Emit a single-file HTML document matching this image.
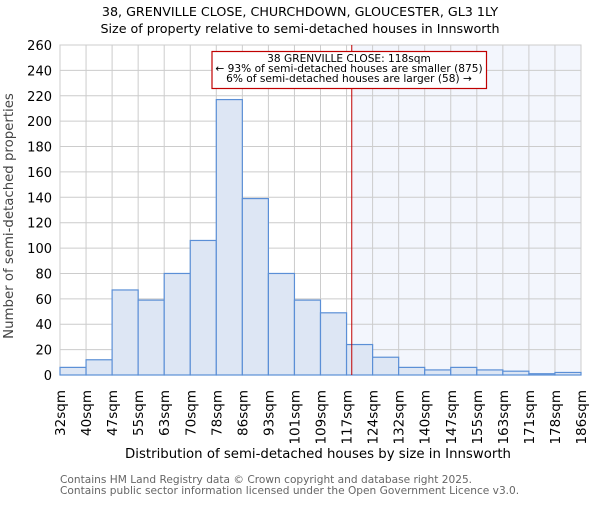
<!DOCTYPE html>
<html><head><meta charset="utf-8"><style>
body{margin:0;background:#fff}
svg{font-family:"DejaVu Sans","Liberation Sans",sans-serif}
</style></head><body>
<svg id="c" width="600" height="500" viewBox="0 0 600 500">
<text x="300" y="16" text-anchor="middle" font-size="12.7">38, GRENVILLE CLOSE, CHURCHDOWN, GLOUCESTER, GL3 1LY</text>
<text x="300" y="33" text-anchor="middle" font-size="12.7">Size of property relative to semi-detached houses in Innsworth</text>
<g id="plot"></g>
<text x="318" y="458" text-anchor="middle" font-size="13.3">Distribution of semi-detached houses by size in Innsworth</text>
<text transform="translate(13,216) rotate(-90)" text-anchor="middle" font-size="13.3" fill="#444">Number of semi-detached properties</text>
<text x="60" y="483" font-size="10.6" fill="#666">Contains HM Land Registry data © Crown copyright and database right 2025.</text>
<text x="60" y="494" font-size="10.6" fill="#666">Contains public sector information licensed under the Open Government Licence v3.0.</text>
</svg>
<script>
const binLabels=["32sqm","40sqm","47sqm","55sqm","63sqm","70sqm","78sqm","86sqm","93sqm","101sqm","109sqm","117sqm","124sqm","132sqm","140sqm","147sqm","155sqm","163sqm","171sqm","178sqm","186sqm"];
const counts=[6,12,67,59,80,106,217,139,80,59,49,24,14,6,4,6,4,3,1,2];
const yTicks=[0,20,40,60,80,100,120,140,160,180,200,220,240,260];
const markerBin=11.2;
const annotLines=["38 GRENVILLE CLOSE: 118sqm","← 93% of semi-detached houses are smaller (875)","6% of semi-detached houses are larger (58) →"];

const NS="http://www.w3.org/2000/svg";
const g=document.getElementById('plot');
const L=60,R=581,T=45,B=375,yMax=260;
const bw=(R-L)/counts.length;
const x=i=>L+i*bw;
const y=v=>B-(v/yMax)*(B-T);
function mk(t,a){const e=document.createElementNS(NS,t);for(const k in a)e.setAttribute(k,a[k]);g.appendChild(e);return e;}
const mx=x(markerBin);
let sh=mk('rect',{x:mx,y:T,width:R-mx,height:B-T,fill:'#f3f6fd'});


yTicks.forEach(v=>{
 let l=mk('line',{x1:L,x2:R,y1:y(v),y2:y(v),stroke:'#ccc','stroke-width':1});
 
 
 let t=mk('text',{x:L-8,y:y(v)+5,'text-anchor':'end','font-size':13});
 t.textContent=v;
 
 
});
binLabels.forEach((s,i)=>{
 let l=mk('line',{x1:x(i),x2:x(i),y1:T,y2:B,stroke:'#ccc','stroke-width':1});
 
 
 let t=mk('text',{transform:`translate(${x(i)+5},390) rotate(-90)`,'text-anchor':'end','font-size':13.5});
 t.textContent=s;
 
 
});
let fr=mk('rect',{x:L,y:T,width:R-L,height:B-T,fill:'none',stroke:'#ccc'});


counts.forEach((v,i)=>{
 let r=mk('rect',{x:x(i),y:y(v),width:bw,height:B-y(v),fill:'#dde6f4',stroke:'#5b8fd6','stroke-width':1.2});
 
 
});
let ml=mk('line',{x1:mx,x2:mx,y1:T,y2:B,stroke:'#c00000','stroke-width':1});


let ab=mk('rect',{x:212,y:51.5,width:274.5,height:37,fill:'#fff',stroke:'#c00000','stroke-width':1.2});


annotLines.forEach((s,i)=>{
 let t=mk('text',{x:349,y:62+i*10,'text-anchor':'middle','font-size':10.6});
 t.textContent=s;
 
 
});
</script>
</body></html>
